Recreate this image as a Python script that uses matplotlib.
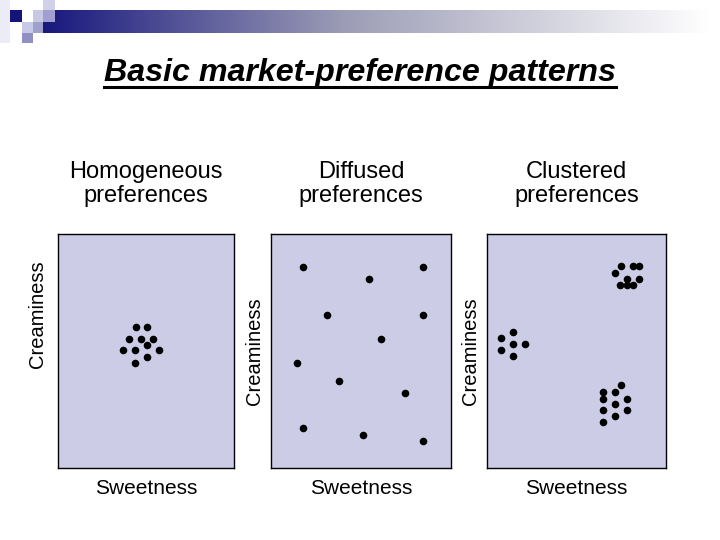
import matplotlib.pyplot as plt
import matplotlib.patches as mpatches
import numpy as np
from matplotlib.colors import LinearSegmentedColormap

plt.rcParams['font.family'] = ['Liberation Sans', 'DejaVu Sans']

title = "Basic market-preference patterns"
panel_titles = ["Homogeneous\npreferences", "Diffused\npreferences", "Clustered\npreferences"]
x_label = "Sweetness"
y_label = "Creaminess"

# consumer ideal points, 0-100 on each attribute
homo_x = [44.3, 50.6, 40.3, 47.2, 54.0, 50.6, 36.9, 43.8, 57.4, 50.6, 43.8]
homo_y = [60.3, 60.3, 55.1, 55.1, 55.1, 52.6, 50.4, 50.4, 50.4, 47.4, 44.9]

diff_x = [17.6, 84.3, 54.4, 31.3, 84.3, 61.1, 14.6, 37.8, 74.4, 17.6, 51.3, 84.3]
diff_y = [86.0, 86.0, 80.8, 65.4, 65.4, 55.1, 44.7, 37.2, 32.2, 17.0, 14.1, 11.7]

clus_x = [71.5, 74.9, 81.4, 85.1, 78.0, 85.1, 74.3, 78.0, 81.4,
          7.8, 14.4, 14.4, 21.2, 7.8, 14.4,
          74.9, 64.6, 71.5, 64.6, 78.0, 71.5, 64.6, 78.0, 71.5, 64.6]
clus_y = [83.5, 86.4, 86.4, 86.4, 80.7, 80.7, 78.3, 78.3, 78.3,
          55.6, 58.0, 52.8, 52.8, 50.3, 47.8,
          35.3, 32.5, 32.5, 29.7, 29.7, 27.2, 24.7, 24.7, 22.3, 19.7]

panels = [(homo_x, homo_y), (diff_x, diff_y), (clus_x, clus_y)]

fig = plt.figure(figsize=(7.2, 5.4), dpi=100)

# slide decoration (pixel space)
deco = fig.add_axes([0, 0, 1, 1], zorder=0)
deco.set_xlim(0, 720)
deco.set_ylim(540, 0)
deco.axis('off')
cmap = LinearSegmentedColormap.from_list('bar', [(0, '#18187e'), (0.45, '#9c9cb6'), (1, '#ffffff')])
deco.imshow(np.linspace(0, 1, 256)[None, :], cmap=cmap, aspect='auto',
            extent=[43, 710, 33, 10])
squares = [(0, 0, 10, 43, '#ececf6'), (10, 10, 12, 12, '#14147a'),
           (33, 10, 10, 12, '#c8c8e4'), (43, 0, 12, 10, '#d0d0e8'),
           (43, 10, 12, 12, '#a0a0d0'), (22, 22, 11, 11, '#c8c8e8'),
           (33, 22, 10, 11, '#a0a0cc'), (22, 33, 11, 10, '#9090c4')]
for sx, sy, sw, sh, sc in squares:
    deco.add_patch(mpatches.Rectangle((sx, sy), sw, sh, color=sc, lw=0))

t = fig.text(0.5, 0.85, title, ha='center', va='baseline', fontsize=23.2,
             fontweight='bold', fontstyle='italic')
fig.canvas.draw()
bb = t.get_window_extent()
uy = 0.85 * 540 - 5.5
fig.add_artist(plt.Line2D([bb.x0, bb.x1], [uy, uy], transform=None,
                          color='black', lw=2.2))

lefts = [58, 271, 487]
widths = [176, 180, 179]
ypads = [8, 5, 5]
for i, (px, py) in enumerate(panels):
    ax = fig.add_axes([lefts[i] / 720, 72 / 540, widths[i] / 720, 234 / 540], zorder=1)
    ax.set_facecolor('#ccccE6')
    ax.scatter(px, py, s=30, color='black', marker='o', linewidths=0)
    ax.set_xlim(0, 100)
    ax.set_ylim(0, 100)
    ax.set_xticks([])
    ax.set_yticks([])
    for sp in ax.spines.values():
        sp.set_linewidth(1.0)
    ax.set_xlabel(x_label, fontsize=15, labelpad=8)
    ax.set_ylabel(y_label, fontsize=14.5, labelpad=ypads[i])
    if i == 0:
        ax.yaxis.label.set_y(0.658)
    fig.text((lefts[i] + widths[i] / 2) / 720, (540 - 184) / 540, panel_titles[i],
             ha='center', va='center', fontsize=17, linespacing=1.15)

fig.savefig('out.png', dpi=100)
